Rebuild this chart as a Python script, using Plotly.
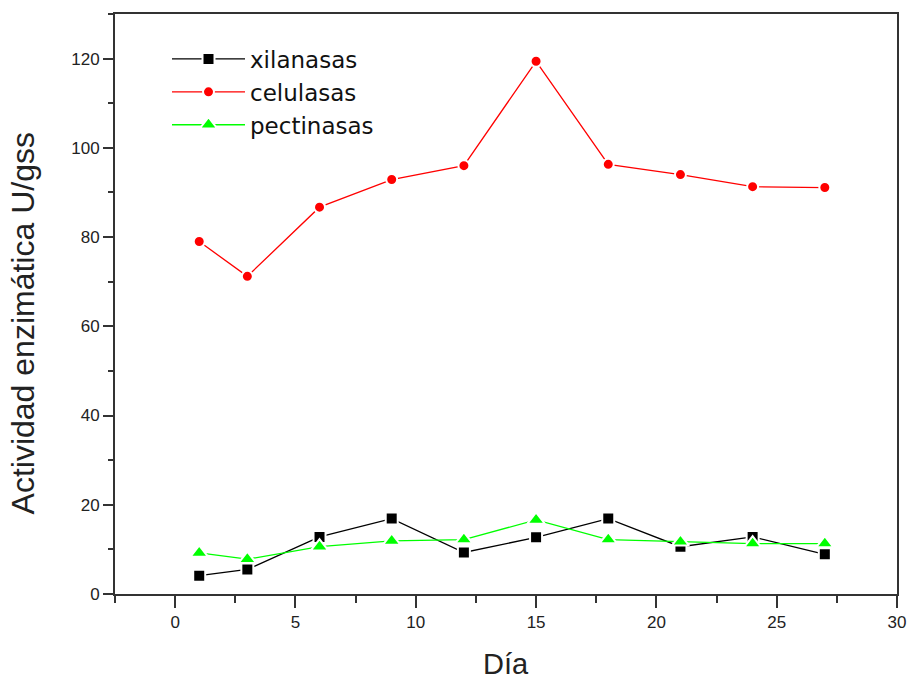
import plotly.graph_objects as go

dias = [1, 3, 6, 9, 12, 15, 18, 21, 24, 27]
xilanasas = [4.1, 5.5, 12.8, 16.9, 9.3, 12.7, 16.9, 10.6, 12.8, 8.9]
celulasas = [79.0, 71.2, 86.7, 92.9, 96.0, 119.4, 96.3, 94.0, 91.3, 91.1]
pectinasas = [9.2, 7.8, 10.6, 11.9, 12.2, 16.6, 12.2, 11.7, 11.3, 11.3]

series = [
    ("xilanasas", xilanasas, "#000000", "square", 12),
    ("celulasas", celulasas, "#ff0000", "circle", 11),
    ("pectinasas", pectinasas, "#00ff00", "triangle-up", 15),
]

fig = go.Figure()
for i, (name, vals, color, sym, size) in enumerate(series):
    fig.add_trace(go.Scatter(
        x=dias, y=vals, name=name, mode="lines+markers",
        legendgroup=str(i),
        line=dict(color=color, width=1.3),
        marker=dict(symbol=sym, size=size, color=color,
                    line=dict(color="white", width=2)),
    ))

axis_common = dict(
    showline=True, linecolor="#333333", linewidth=2, mirror=True,
    ticks="outside", tickcolor="#333333", tickwidth=1.5,
    showgrid=False, zeroline=False, automargin=False,
    tickfont=dict(family="Liberation Sans, Arial", size=17, color="#222222"),
)

fig.update_layout(
    width=909, height=681,
    margin=dict(l=115, r=12, t=14, b=87),
    plot_bgcolor="white", paper_bgcolor="white",
    showlegend=True,
    legend=dict(x=0.0665, y=0.9595, xanchor="left", yanchor="top",
                traceorder="grouped", tracegroupgap=0, itemwidth=73,
                font=dict(family="DejaVu Sans", size=23, color="#111111"),
                bgcolor="rgba(0,0,0,0)"),
    xaxis=dict(range=[-2.5, 30], tickvals=[0, 5, 10, 15, 20, 25, 30], ticklen=12,
               minor=dict(tickvals=[-2.5, 2.5, 7.5, 12.5, 17.5, 22.5, 27.5], ticklen=7,
                          ticks="outside", tickcolor="#333333", tickwidth=1.5),
               **axis_common),
    yaxis=dict(range=[0, 130], tickvals=[0, 20, 40, 60, 80, 100, 120], ticklen=10,
               minor=dict(tickvals=[10, 30, 50, 70, 90, 110, 130], ticklen=5,
                          ticks="outside", tickcolor="#333333", tickwidth=1.5),
               **axis_common),
    annotations=[
        dict(text="Día", xref="paper", yref="paper", x=0.5, y=-0.12,
             xanchor="center", yanchor="middle", showarrow=False,
             font=dict(family="Liberation Sans, Arial", size=29, color="#222222")),
        dict(text="Actividad enzimática U/gss", xref="paper", yref="paper",
             x=-0.118, y=0.466, textangle=-90, xanchor="center", yanchor="middle",
             showarrow=False,
             font=dict(family="Liberation Sans, Arial", size=32, color="#222222")),
    ],
)

fig.write_html("out.html", config={"displayModeBar": False},
               post_script="document.body.style.margin='0';")
